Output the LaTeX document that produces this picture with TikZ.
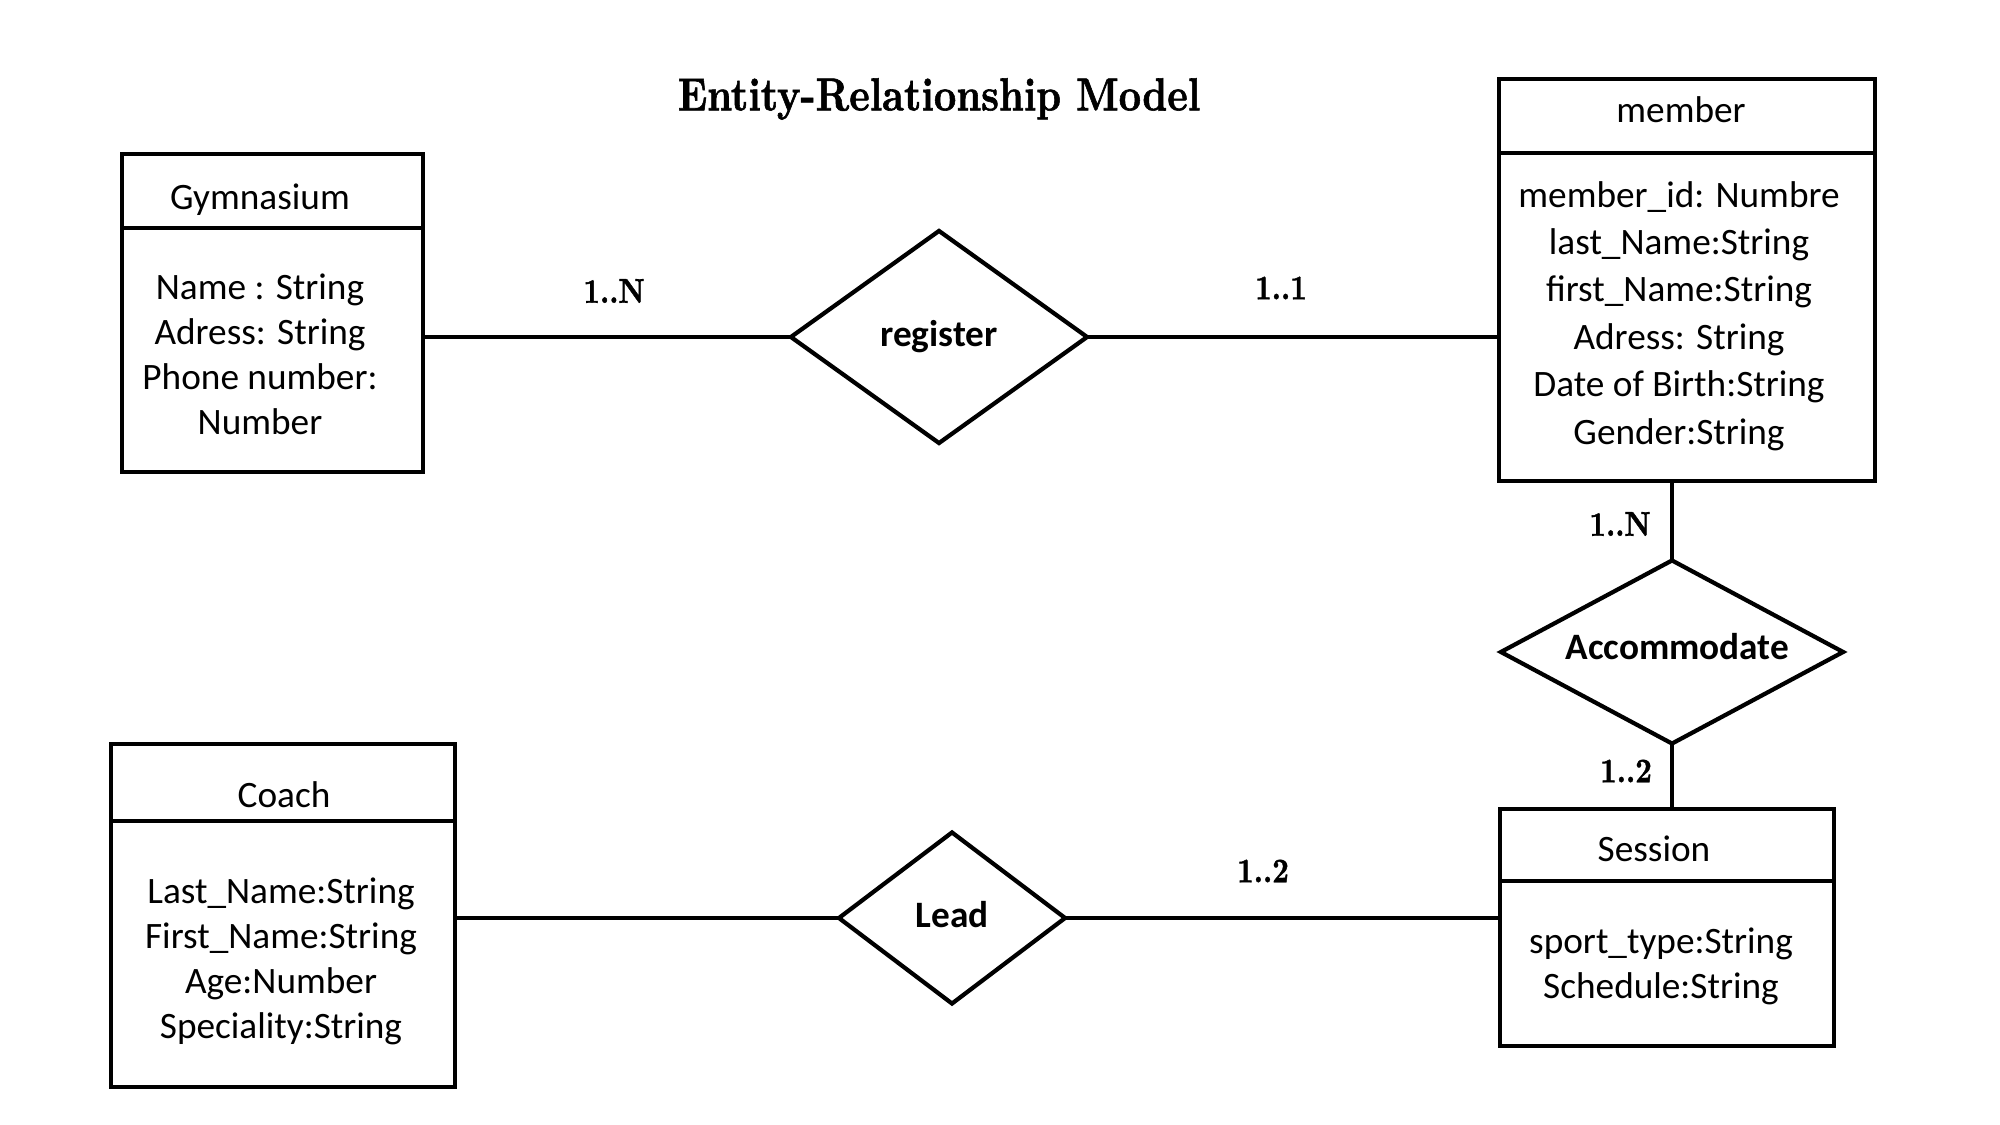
\documentclass[tikz,border=0pt]{standalone}
\usepackage{fontspec}
\usetikzlibrary{shapes.geometric}
\newfontfamily\calfont{Carlito}
\newfontfamily\ttlfont{lmroman10-bold.otf}[FakeStretch=0.84,FakeBold=1.2]
\begin{document}
\begin{tikzpicture}[x=0.01cm,y=-0.01cm,
  box/.style={draw=black, line width=1.2pt, rectangle, inner sep=0pt, outer sep=0pt},
  attr/.style={font=\calfont\fontsize{10.6}{12.8}\selectfont, align=center, inner sep=0pt},
  rel/.style={draw=black, line width=1.2pt, shape=diamond, aspect=2, inner sep=0pt, outer sep=0pt,
              font=\calfont\bfseries\fontsize{10.6}{12.7}\selectfont},
  card/.style={font=\ttlfont\fontsize{9.8}{11}\selectfont, inner sep=0pt},
  conn/.style={line width=1.2pt}]
\useasboundingbox (0,0) rectangle (2000,1125);
\fill[white] (0,0) rectangle (2000,1125);

% title
\node[font=\ttlfont\fontsize{13.2}{15}\selectfont, inner sep=0pt] (title) at (939,99) {Entity-Relationship Model};

% Gymnasium
\node[box, minimum width=3.01cm, minimum height=0.74cm, anchor=north west] (gymH) at (122,154) {};
\node[box, minimum width=3.01cm, minimum height=2.44cm, anchor=north] (gymB) at (gymH.south) {};
\node[attr] (gymT) at (260,200) {Gymnasium};
\node[attr] (gymA) at (260,354) {Name : String\\Adress: String\\Phone number:\\Number};

% member
\node[box, minimum width=3.76cm, minimum height=0.74cm, anchor=north west] (memH) at (1499,79) {};
\node[box, minimum width=3.76cm, minimum height=3.28cm, anchor=north] (memB) at (memH.south) {};
\node[attr] (memT) at (1681,110) {member};
\node[attr, font=\calfont\fontsize{10.6}{13.5}\selectfont] (memA) at (1679,316)
  {member\_id: Numbre\\last\_Name:String\\first\_Name:String\\Adress: String\\Date of Birth:String\\Gender:String};

% Coach
\node[box, minimum width=3.44cm, minimum height=0.77cm, anchor=north west] (coaH) at (111,744) {};
\node[box, minimum width=3.44cm, minimum height=2.66cm, anchor=north] (coaB) at (coaH.south) {};
\node[attr] (coaT) at (284,795) {Coach};
\node[attr] (coaA) at (281,961) {Last\_Name:String\\First\_Name:String\\Age:Number\\Speciality:String};

% Session
\node[box, minimum width=3.34cm, minimum height=0.72cm, anchor=north west] (sesH) at (1500,809) {};
\node[box, minimum width=3.34cm, minimum height=1.65cm, anchor=north] (sesB) at (sesH.south) {};
\node[attr] (sesT) at (1654,849) {Session};
\node[attr] (sesA) at (1661,966) {sport\_type:String\\Schedule:String};

% relationships
\node[rel, minimum width=2.96cm, minimum height=2.12cm] (reg) at (939,337) {register};
\node[rel, minimum width=3.42cm, minimum height=1.83cm] (acc) at (1672,652) {\raisebox{3pt}{\hspace{3pt}Accommodate}};
\node[rel, minimum width=2.26cm, minimum height=1.71cm] (lead) at (952,918) {\raisebox{2pt}{Lead}};

% connectors
\draw[conn] (reg.west) -- (reg.west -| gymB.east);
\draw[conn] (reg.east) -- (reg.east -| memB.west);
\draw[conn] (acc.north) -- (acc.north |- memB.south);
\draw[conn] (acc.south) -- (acc.south |- sesH.north);
\draw[conn] (lead.west) -- (lead.west -| coaB.east);
\draw[conn] (lead.east) -- (lead.east -| sesB.west);

% cardinalities
\node[card] (c1) at (614,291) {1..N};
\node[card] (c2) at (1281,288) {1..1};
\node[card] (c3) at (1620,524) {1..N};
\node[card] (c4) at (1626,771) {1..2};
\node[card] (c5) at (1263,871) {1..2};
\end{tikzpicture}
\end{document}
